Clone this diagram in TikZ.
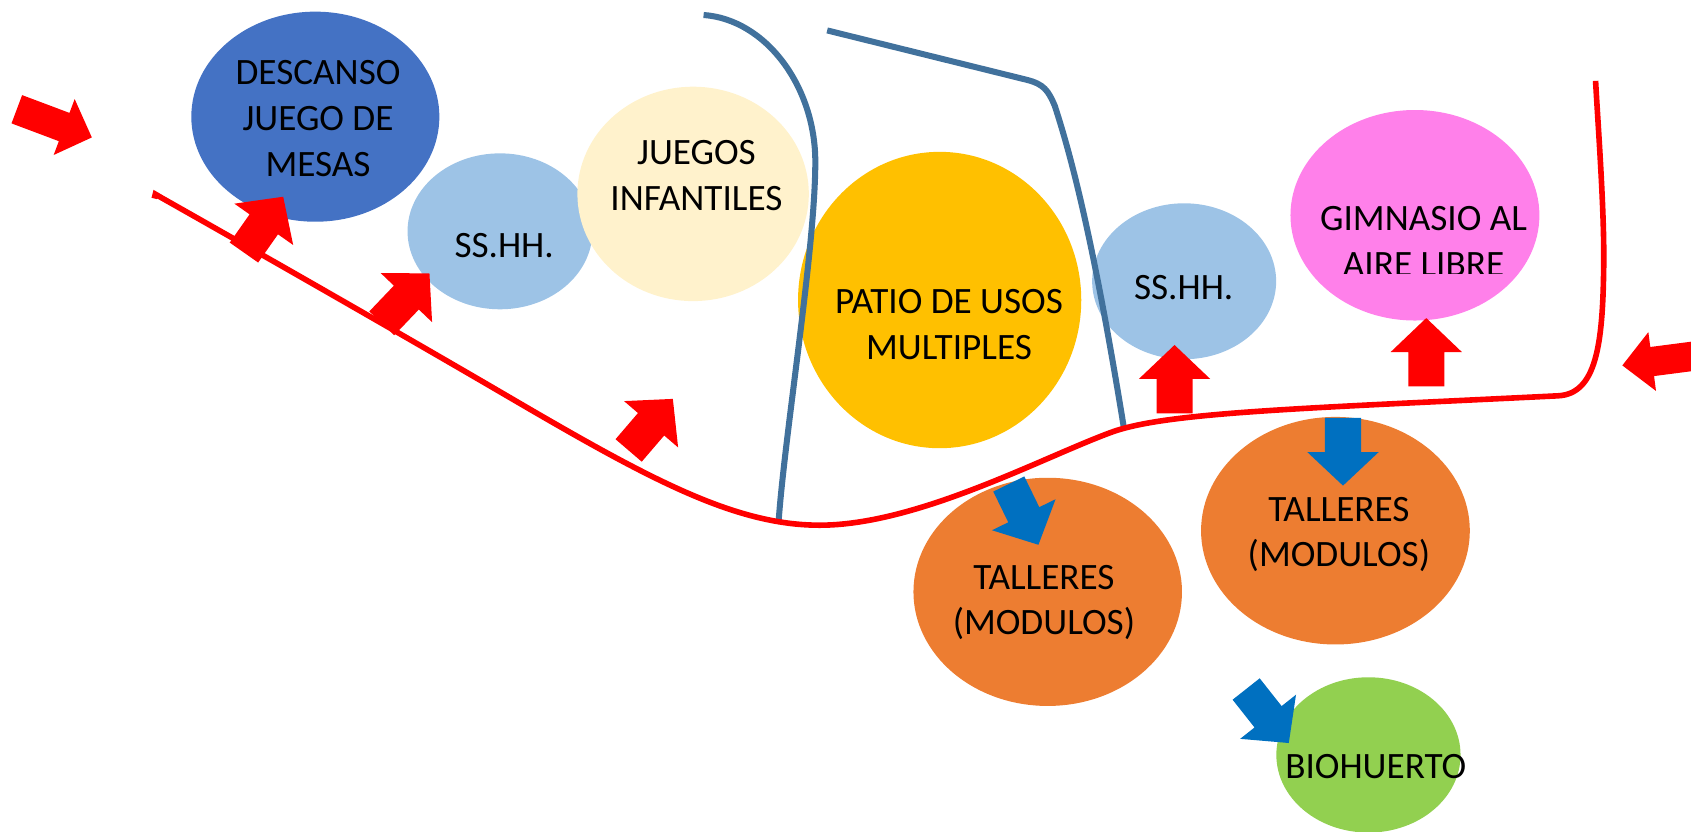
\documentclass[tikz,border=0pt]{standalone}
\usepackage{fontspec}
\setmainfont{Carlito}
\usetikzlibrary{shapes.geometric}
\definecolor{cDesc}{HTML}{4472C4}
\definecolor{cSS}{HTML}{9DC3E6}
\definecolor{cJueg}{HTML}{FFF2CC}
\definecolor{cPatio}{HTML}{FFC000}
\definecolor{cGim}{HTML}{FF80EA}
\definecolor{cTal}{HTML}{ED7D31}
\definecolor{cBio}{HTML}{92D050}
\definecolor{cRed}{HTML}{FF0000}
\definecolor{cBlue}{HTML}{0070C0}
\definecolor{cWall}{HTML}{41719C}
% #1 colour, #2 tail point, #3 angle, #4 length, #5 shaft half width, #6 head half width, #7 head length
\newcommand{\blockarrow}[7]{%
  \fill[#1, shift={#2}, rotate=#3] (0,#5) -- ({#4-#7},#5) -- ({#4-#7},#6) -- (#4,0)
    -- ({#4-#7},-#6) -- ({#4-#7},-#5) -- (0,-#5) -- cycle;}
\tikzset{
  blob/.style={ellipse, draw=none, inner sep=0pt},
  lbl/.style={font=\fontsize{17.25pt}{21.2pt}\selectfont, align=center, inner sep=0pt, text=black},
  wall/.style={draw=cWall, line width=2.8pt},
  path/.style={draw=cRed, line width=2.6pt}
}
\begin{document}
\begin{tikzpicture}[x=0.5pt, y=-0.5pt]
\useasboundingbox (0,0) rectangle (1568,770.6);
\clip (0,0) rectangle (1568,770.6);
% zones
\node[blob, fill=cDesc, minimum width=115pt, minimum height=97.4pt] (desc) at (292.4,108.2) {};
\node[blob, fill=cSS, minimum width=85.7pt, minimum height=72.3pt] (ssL) at (463.6,214.5) {};
\node[blob, fill=cJueg, minimum width=107.3pt, minimum height=99.4pt] (jueg) at (642.7,179.8) {};
\node[blob, fill=cPatio, minimum width=131.3pt, minimum height=137.4pt] (patio) at (871.3,278.2) {};
\node[blob, fill=cSS, minimum width=85.3pt, minimum height=72.3pt] (ssR) at (1098,260.8) {};
\node[blob, fill=cGim, minimum width=115.4pt, minimum height=97.6pt] (gim) at (1312,199.6) {};
\node[blob, fill=cTal, minimum width=124.6pt, minimum height=105.5pt] (talR) at (1238.3,492.1) {};
\node[blob, fill=cTal, minimum width=124.5pt, minimum height=105.8pt] (talL) at (971.5,548.8) {};
\node[blob, fill=cBio, minimum width=85.4pt, minimum height=72pt] (bio) at (1268.9,700) {};
% walls
\draw[wall] (652.4,13.9) .. controls (710,18) and (756,80) .. (756,150)
  .. controls (756,230) and (728,400) .. (722,483);
\draw[wall] (767,28.2) -- (952,74) .. controls (968,78) and (972,84) .. (978,98)
  .. controls (995,150) and (1015,230) .. (1042,396);
% circulation line
\draw[path] (143,184) -- (144,180) -- (150,183.5)
  .. controls (250,240) and (380,314.4) .. (470,367)
  .. controls (600,443) and (680,487) .. (760,487)
  .. controls (850,487) and (965,425) .. (1030,401)
  .. controls (1080,382.5) and (1200,379) .. (1445,367)
  .. controls (1480,365) and (1486,320) .. (1487,250)
  .. controls (1488,200) and (1482,120) .. (1479.5,75);
% arrows
\blockarrow{cRed}{(15.6,101.3)}{-20.6}{74.3}{14}{27.7}{27.4}
\blockarrow{cRed}{(226.2,234.2)}{54.9}{63.3}{16.1}{33.3}{31.3}
\blockarrow{cRed}{(354,299.8)}{46.3}{64}{16}{33}{31}
\blockarrow{cRed}{(582.9,417.7)}{49.4}{63}{16}{33}{31}
\blockarrow{cRed}{(1089.1,383.4)}{90}{63.5}{16.7}{33.1}{31.5}
\blockarrow{cRed}{(1322.5,358.3)}{90}{63.4}{16.7}{33}{31.5}
\blockarrow{cRed}{(1577.7,329.3)}{187.4}{74}{13.6}{27.5}{27.9}
\blockarrow{cBlue}{(935.4,448.8)}{-64}{62.7}{16}{32.8}{31}
\blockarrow{cBlue}{(1245.3,387.5)}{-90}{62.8}{16.7}{33}{31}
\blockarrow{cBlue}{(1155.5,638.9)}{-51.7}{63.8}{16}{33}{31}
% labels
\node[lbl] (descT) at (294.9,109.8) {DESCANSO\\JUEGO DE\\MESAS};
\node[lbl] (ssLT) at (467.5,227.5) {SS.HH.};
\node[lbl] (juegT) at (645.8,162.7) {JUEGOS\\INFANTILES};
\node[lbl] (patioT) at (880,301) {PATIO DE USOS\\MULTIPLES};
\node[lbl] (ssRT) at (1097.6,266.2) {SS.HH.};
\begin{scope}
  \clip (1150,0) rectangle (1500,253.5);
  \node[lbl] (gimT) at (1320,224) {GIMNASIO AL\\AIRE LIBRE};
\end{scope}
\node[lbl] (talRT) at (1241.5,495.7) {TALLERES\\(MODULOS)};
\node[lbl] (talLT) at (968,558.7) {TALLERES\\(MODULOS)};
\node[lbl] (bioT) at (1275.7,710.9) {BIOHUERTO};
\end{tikzpicture}
\end{document}
